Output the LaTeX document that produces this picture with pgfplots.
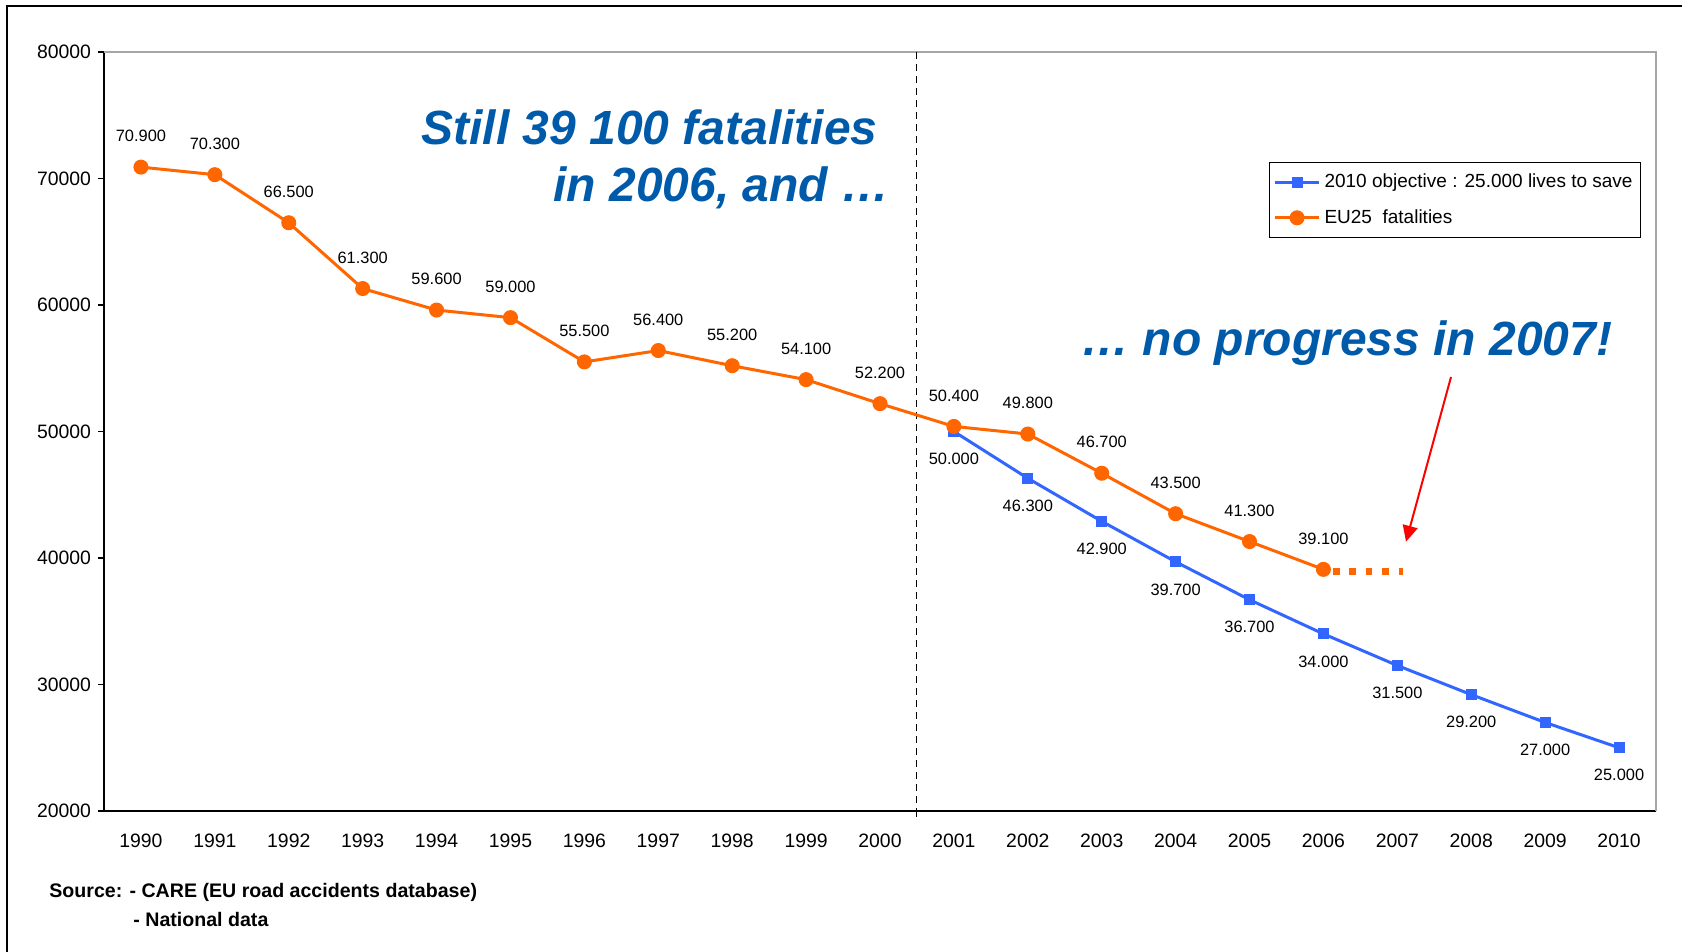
\documentclass[border=0pt]{standalone}
\usepackage{fontspec}
\setmainfont{Liberation Sans}
\usepackage{pgfplots}
\usepackage{pgfplotstable}
\pgfplotsset{compat=1.18}
\usetikzlibrary{arrows.meta}
\definecolor{eorange}{RGB}{255,102,0}
\definecolor{eblue}{RGB}{51,102,255}
\definecolor{tblue}{RGB}{0,90,170}

\pgfplotstableread{
year val lab
2001 50000 50.000
2002 46300 46.300
2003 42900 42.900
2004 39700 39.700
2005 36700 36.700
2006 34000 34.000
2007 31500 31.500
2008 29200 29.200
2009 27000 27.000
2010 25000 25.000
}\objective

\pgfplotstableread{
year val lab
1990 70900 70.900
1991 70300 70.300
1992 66500 66.500
1993 61300 61.300
1994 59600 59.600
1995 59000 59.000
1996 55500 55.500
1997 56400 56.400
1998 55200 55.200
1999 54100 54.100
2000 52200 52.200
2001 50400 50.400
2002 49800 49.800
2003 46700 46.700
2004 43500 43.500
2005 41300 41.300
2006 39100 39.100
}\fatal

\begin{document}
\begin{tikzpicture}
\path[use as bounding box] (-52pt,-70.5pt) rectangle (789pt,405.5pt);
\draw[line width=1pt] (-48.5pt,-70.5pt) -- (-48.5pt,402.5pt) -- (789pt,402.5pt);
\begin{axis}[
  at={(0pt,0pt)}, anchor=south west,
  scale only axis, width=776pt, height=379.5pt,
  xmin=1989.5, xmax=2010.5, ymin=20000, ymax=80000,
  scaled y ticks=false, scaled x ticks=false,
  axis x line*=bottom, axis y line*=left,
  axis line style={line width=0.7pt, black, -},
  xtick={1990,1991,1992,1993,1994,1995,1996,1997,1998,1999,2000,2001,2002,2003,2004,2005,2006,2007,2008,2009,2010},
  xticklabels={1990,1991,1992,1993,1994,1995,1996,1997,1998,1999,2000,2001,2002,2003,2004,2005,2006,2007,2008,2009,2010},
  ytick={20000,30000,40000,50000,60000,70000,80000},
  yticklabels={20000,30000,40000,50000,60000,70000,80000},
  tick align=outside, major tick length=3pt,
  xtick style={draw=none},
  ytick style={line width=0.6pt, black},
  tick label style={font=\fontsize{9.7}{11}\selectfont},
  xticklabel style={yshift=-5pt},
  clip=false,
  legend style={at={(0.7506,0.855)}, anchor=north west, draw=black, line width=0.6pt,
    font=\fontsize{9.5}{11}\selectfont, inner xsep=2pt, inner ysep=3.5pt, row sep=5.5pt},
  legend cell align=left,
  legend image code/.code={\draw[mark repeat=2,mark phase=2] plot coordinates {(0pt,0pt)(11pt,0pt)(22pt,0pt)};},
]
\draw[gray!70, line width=0.9pt] (rel axis cs:0,1) -- (rel axis cs:1,1) -- (rel axis cs:1,0);
\draw[black, line width=0.5pt, dash pattern=on 3.5pt off 2.5pt] (axis cs:2000.5,80000) -- (axis cs:2000.5,20000);
\draw[black, line width=0.5pt] (axis cs:2000.5,20000) -- ++(0pt,-3pt);

\addplot[eblue, line width=1.5pt, mark=square*, mark size=2pt, mark options={solid},
  nodes near coords, point meta=explicit symbolic,
  nodes near coords style={anchor=center, yshift=-13.8pt, text=black, font=\fontsize{8.2}{10}\selectfont}]
  table[x=year, y=val, meta=lab] {\objective};
\addplot[eorange, line width=1.5pt, mark=*, mark size=3pt, mark options={solid},
  nodes near coords, point meta=explicit symbolic,
  nodes near coords style={anchor=center, yshift=15.5pt, text=black, font=\fontsize{8.2}{10}\selectfont}]
  table[x=year, y=val, meta=lab] {\fatal};
\addplot[eorange, line width=3.5pt, dash pattern=on 3.3pt off 4.9pt, forget plot]
  coordinates {(2006.13,38900) (2007.08,38900)};
\legend{2010 objective : 25.000 lives to save, EU25\ \ fatalities}
\end{axis}
\node[anchor=base west, inner sep=0pt, text=tblue, font={\fontsize{24}{28}\selectfont\bfseries\itshape}] at (158.5pt,333pt) {Still 39 100 fatalities};
\node[anchor=base west, inner sep=0pt, text=tblue, font={\fontsize{24}{28}\selectfont\bfseries\itshape}] at (224.5pt,304.5pt) {in 2006, and …};
\node[anchor=base west, inner sep=0pt, text=tblue, font={\fontsize{24}{28}\selectfont\bfseries\itshape}] at (488.5pt,227.5pt) {… no progress in 2007!};
\draw[red, line width=1pt, -{Triangle[length=8pt,width=7.5pt]}] (673.5pt,217pt) -- (651pt,134.65pt);
\node[anchor=base west, inner sep=0pt, font={\fontsize{9.8}{12}\selectfont\bfseries}] at (-27.5pt,-43.5pt) {Source: - CARE (EU road accidents database)};
\node[anchor=base west, inner sep=0pt, font={\fontsize{9.8}{12}\selectfont\bfseries}] at (14.5pt,-58pt) {- National data};
\end{tikzpicture}
\end{document}
